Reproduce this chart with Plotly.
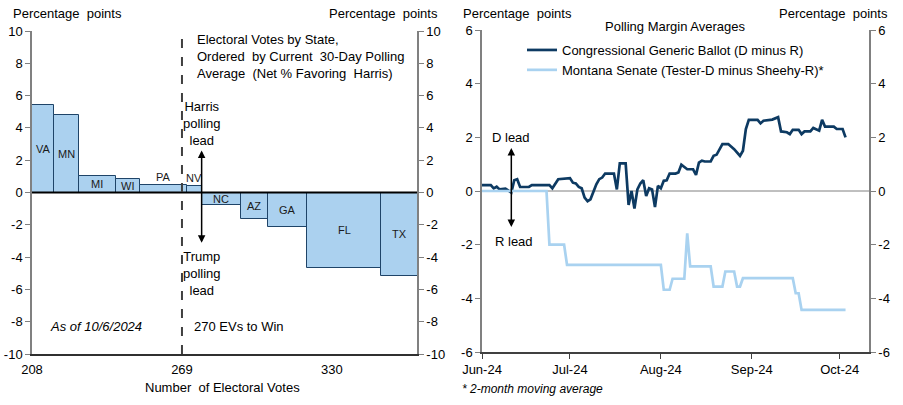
import plotly.graph_objects as go

# ---- left panel: states ordered by polling margin ----
ev_start = 204
states = ["VA", "MN", "MI", "WI", "PA", "NV", "NC", "AZ", "GA", "FL", "TX"]
electoral_votes = [13, 10, 15, 10, 19, 6, 16, 11, 16, 30, 40]
margins = [5.4, 4.8, 1.0, 0.85, 0.48, 0.42, -0.8, -1.63, -2.13, -4.68, -5.16]
ev_ticks = [208, 269, 330]
ev_range = [208, 364.6]
ev_to_win = 269
left_yticks = [-10, -8, -6, -4, -2, 0, 2, 4, 6, 8, 10]

# ---- right panel: polling margin averages ----
generic_dates = [
    "2024-06-01", "2024-06-04", "2024-06-05", "2024-06-06", "2024-06-07", "2024-06-09",
    "2024-06-11", "2024-06-12", "2024-06-13", "2024-06-14", "2024-06-17", "2024-06-18",
    "2024-06-24", "2024-06-25", "2024-06-27", "2024-07-01", "2024-07-02", "2024-07-03",
    "2024-07-04", "2024-07-05", "2024-07-06", "2024-07-07", "2024-07-08", "2024-07-10",
    "2024-07-11", "2024-07-12", "2024-07-13", "2024-07-16", "2024-07-17", "2024-07-18",
    "2024-07-20", "2024-07-21", "2024-07-22", "2024-07-23", "2024-07-24", "2024-07-25",
    "2024-07-26", "2024-07-27", "2024-07-28", "2024-07-29", "2024-07-30", "2024-07-31",
    "2024-08-01", "2024-08-02", "2024-08-03", "2024-08-04", "2024-08-06", "2024-08-07",
    "2024-08-08", "2024-08-10", "2024-08-12", "2024-08-13", "2024-08-14", "2024-08-15",
    "2024-08-16", "2024-08-18", "2024-08-19", "2024-08-20", "2024-08-22", "2024-08-24",
    "2024-08-26", "2024-08-28", "2024-08-29", "2024-08-30", "2024-08-31", "2024-09-03",
    "2024-09-04", "2024-09-05", "2024-09-08", "2024-09-10", "2024-09-11", "2024-09-13",
    "2024-09-14", "2024-09-15", "2024-09-17", "2024-09-18", "2024-09-19", "2024-09-21",
    "2024-09-22", "2024-09-23", "2024-09-24", "2024-09-25", "2024-09-26", "2024-09-29",
    "2024-09-30", "2024-10-02", "2024-10-03",
]
generic_ballot = [
    0.22, 0.22, 0.10, 0.16, 0.06, 0.09,
    -0.06, 0.40, 0.44, 0.15, 0.15, 0.22,
    0.22, 0.10, 0.44, 0.48, 0.31, 0.28,
    0.15, 0.10, -0.25, -0.38, -0.31, 0.25,
    0.44, 0.50, 0.65, 0.65, 0.06, 1.03,
    1.03, -0.52, 0.0, -0.65, 0.06, 0.28,
    0.40, -0.19, 0.10, 0.06, -0.60, 0.19,
    0.10, 0.38, 0.40, 0.65, 0.65, 0.69,
    0.98, 0.81, 0.81, 0.60, 1.06, 1.13,
    1.10, 1.10, 1.31, 1.35, 1.75, 1.75,
    1.56, 1.31, 1.50, 2.31, 2.65, 2.65,
    2.52, 2.62, 2.66, 2.75, 2.22, 2.19,
    2.12, 2.28, 2.28, 2.12, 2.22, 2.22,
    2.35, 2.31, 2.25, 2.65, 2.40, 2.40,
    2.31, 2.31, 2.00,
]

montana_dates = [
    "2024-06-01", "2024-06-23", "2024-06-24", "2024-06-29", "2024-06-30", "2024-08-01",
    "2024-08-02", "2024-08-04", "2024-08-05", "2024-08-09", "2024-08-10", "2024-08-11",
    "2024-08-18", "2024-08-19", "2024-08-22", "2024-08-23", "2024-08-26", "2024-08-27",
    "2024-08-28", "2024-08-29", "2024-09-15", "2024-09-16", "2024-09-17", "2024-09-18",
    "2024-10-03",
]
montana_senate = [
    0.0, 0.0, -2.0, -2.0, -2.75, -2.75,
    -3.68, -3.68, -3.27, -3.27, -1.58, -2.81,
    -2.81, -3.56, -3.56, -3.0, -3.0, -3.56,
    -3.56, -3.25, -3.25, -3.81, -3.81, -4.43,
    -4.43,
]
month_ticks = ["2024-06-01", "2024-07-01", "2024-08-01", "2024-09-01", "2024-10-01"]
month_labels = ["Jun-24", "Jul-24", "Aug-24", "Sep-24", "Oct-24"]
date_range = ["2024-06-01", "2024-10-11"]
right_yticks = [-6, -4, -2, 0, 2, 4, 6]

FONT = "Arial, Liberation Sans, sans-serif"
FS = 13
W, H = 903, 405
BAR_FILL = "#abd1ef"
BAR_EDGE = "#1f4468"
NAVY = "#0d3a62"
LIGHT = "#a9d2f0"
AXIS_GREY = "#808080"


def px(x):
    return x / W


def py(y):
    return 1 - y / H


# cumulative bar positions
starts = []
acc = ev_start
for ev in electoral_votes:
    starts.append(acc)
    acc += ev
mids = [s + ev / 2 for s, ev in zip(starts, electoral_votes)]

fig = go.Figure()

fig.add_trace(go.Bar(
    x=mids, y=margins, width=electoral_votes,
    marker=dict(color=BAR_FILL, line=dict(color=BAR_EDGE, width=1)),
    xaxis="x", yaxis="y", showlegend=False, hoverinfo="skip",
    cliponaxis=True,
))
# dummy for right-hand axis on left panel
fig.add_trace(go.Scatter(x=[ev_range[0]], y=[0], xaxis="x", yaxis="y2",
                         mode="markers", marker=dict(opacity=0), showlegend=False, hoverinfo="skip"))

fig.add_trace(go.Scatter(
    x=generic_dates, y=generic_ballot, mode="lines",
    name="Congressional Generic Ballot (D minus R)",
    line=dict(color=NAVY, width=2.7), xaxis="x2", yaxis="y3",
))
fig.add_trace(go.Scatter(
    x=montana_dates, y=montana_senate, mode="lines",
    name="Montana Senate (Tester-D minus Sheehy-R)*",
    line=dict(color=LIGHT, width=2.7), xaxis="x2", yaxis="y3",
))
fig.add_trace(go.Scatter(x=[date_range[0]], y=[0], xaxis="x2", yaxis="y4",
                         mode="markers", marker=dict(opacity=0), showlegend=False, hoverinfo="skip"))

# plain hyphen for negative tick labels, as in the source chart
yax = dict(range=[-10, 10], tickvals=left_yticks, ticktext=[str(v) for v in left_yticks],
           ticks="outside", ticklen=5, tickcolor=AXIS_GREY,
           showline=True, linecolor=AXIS_GREY, linewidth=1.5, showgrid=False, zeroline=False,
           tickfont=dict(size=FS, color="#000000"), automargin=False)
yax_r = dict(range=[-6, 6], tickvals=right_yticks, ticktext=[str(v) for v in right_yticks],
             ticks="outside", ticklen=5, tickcolor=AXIS_GREY,
             showline=True, linecolor=AXIS_GREY, linewidth=1.5, showgrid=False, zeroline=False,
             tickfont=dict(size=FS, color="#000000"), automargin=False)

left_dom = [px(32), px(417)]
right_dom = [px(482), px(869)]

fig.update_layout(
    width=W, height=H,
    margin=dict(l=0, r=0, t=0, b=0),
    paper_bgcolor="white", plot_bgcolor="white",
    font=dict(family=FONT, size=FS, color="#000000"),
    bargap=0,
    xaxis=dict(domain=left_dom, range=ev_range, tickvals=ev_ticks, ticks="",
               showline=True, linecolor="#303030", linewidth=1.5, showgrid=False, zeroline=False,
               anchor="y", tickfont=dict(size=FS), automargin=False, ticklabelstandoff=3),
    yaxis=dict(domain=[py(354), py(31)], anchor="x", side="left", **yax),
    yaxis2=dict(overlaying="y", anchor="x", side="right", **yax),
    xaxis2=dict(domain=right_dom, range=date_range, type="date", tickvals=month_ticks,
                ticktext=month_labels, ticks="outside", ticklen=5, tickcolor="#404040",
                showline=True, linecolor="#404040", linewidth=1.5, showgrid=False, zeroline=False,
                anchor="y3", tickfont=dict(size=FS), automargin=False),
    yaxis3=dict(domain=[py(352), py(30)], anchor="x2", side="left", **yax_r),
    yaxis4=dict(overlaying="y3", anchor="x2", side="right", **yax_r),
    legend=dict(x=px(522), y=py(35), xanchor="left", yanchor="top",
                bgcolor="rgba(0,0,0,0)", font=dict(size=FS), tracegroupgap=0,
                itemwidth=30),
    showlegend=True,
)

shapes = [
    # zero line, left panel
    dict(type="line", xref="x", yref="y", x0=ev_range[0], x1=ev_range[1], y0=0, y1=0,
         line=dict(color="#000000", width=2), layer="above"),
    # 270 EVs to win
    dict(type="line", xref="x", yref="y", x0=ev_to_win, x1=ev_to_win, y0=-10, y1=10,
         line=dict(color="#404040", width=2, dash="dash"), layer="above"),
    # zero line, right panel
    dict(type="line", xref="x2", yref="y3", x0=date_range[0], x1=date_range[1], y0=0, y1=0,
         line=dict(color=AXIS_GREY, width=1), layer="below"),
]
fig.update_layout(shapes=shapes)

annotations = []
# state labels, centred on the visible part of each bar
for s, ev, m, name in zip(starts, electoral_votes, margins, states):
    lo = max(s, ev_range[0])
    hi = min(s + ev, ev_range[1])
    ly = m / 2 if abs(m) > 0.6 else m + 0.45
    annotations.append(dict(x=(lo + hi) / 2, y=ly, xref="x", yref="y", text=name,
                            showarrow=False, font=dict(size=11, color="#1a1a1a")))


def note(x, y, text, xanchor="center", ref=("paper", "paper"), size=FS, align="center"):
    return dict(x=x, y=y, xref=ref[0], yref=ref[1], text=text, xanchor=xanchor,
                yanchor="middle", align=align, showarrow=False, font=dict(size=size))


nv_end = starts[states.index("NV")] + electoral_votes[states.index("NV")]
L = ("x", "y")
R = ("x2", "y3")
annotations += [
    dict(x=nv_end, y=2.6, ax=nv_end, ay=-3.2, xref="x", yref="y", axref="x", ayref="y",
         text="", showarrow=True, arrowhead=2, startarrowhead=2, arrowside="end+start",
         arrowsize=1, arrowwidth=1.5, arrowcolor="#000000"),
    note(nv_end, 4.3, "Harris<br>polling<br>lead", ref=L),
    note(nv_end, -5.0, "Trump<br>polling<br>lead", ref=L),
    note(274.3, 8.45,
         "Electoral Votes by State,<br>Ordered  by Current  30-Day Polling<br>Average  (Net % Favoring  Harris)",
         xanchor="left", ref=L, align="left"),
    note(234, -8.3, "<i>As of 10/6/2024</i>", ref=L),
    note(273, -8.3, "270 EVs to Win", xanchor="left", ref=L),
    note(px(11), py(14), "Percentage  points", xanchor="left"),
    note(px(440), py(14), "Percentage  points", xanchor="right"),
    note(px(222), py(387), "Number  of Electoral Votes"),
    # right panel
    note(px(461), py(14), "Percentage  points", xanchor="left"),
    note(px(890), py(14), "Percentage  points", xanchor="right"),
    note(px(675), py(27), "Polling Margin Averages"),
    dict(x="2024-06-11", y=1.6, ax="2024-06-11", ay=-1.4, xref="x2", yref="y3", axref="x2", ayref="y3",
         text="", showarrow=True, arrowhead=2, startarrowhead=2, arrowside="end+start",
         arrowsize=1, arrowwidth=1.5, arrowcolor="#000000"),
    note("2024-06-11", 2.0, "D lead", ref=R),
    note("2024-06-12", -1.9, "R lead", ref=R),
    note(px(460), py(389), "<i>* 2-month moving average</i>", xanchor="left", size=12),
]
fig.update_layout(annotations=annotations)

# page body has a default 8px margin; drop it so the figure sits at the window origin
fig.write_html("out.html", config={"displayModeBar": False},
               post_script="document.body.style.margin='0';")
